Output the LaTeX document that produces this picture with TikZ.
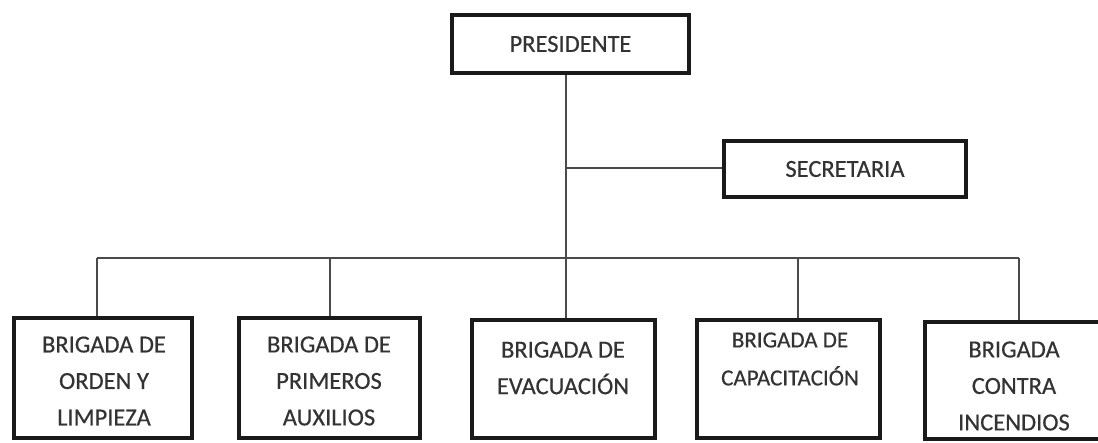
\documentclass[tikz,border=0pt]{standalone}
\usepackage{fontspec}
\setmainfont{Carlito}[FakeBold=0.5]
\definecolor{ink}{HTML}{333333}
\definecolor{frame}{HTML}{1A1A1A}
\definecolor{wire}{HTML}{4A4A4A}
\tikzset{
  box/.style={draw=frame, line width=4pt, fill=white, inner sep=0pt},
  lbl/.style={text=ink, align=center, inner sep=0pt, font=\fontsize{24.5}{36.5}\selectfont},
  lblsmall/.style={text=ink, align=center, inner sep=0pt, font=\fontsize{23}{38}\selectfont},
  wireline/.style={draw=wire, line width=1.4pt}
}
\begin{document}
\begin{tikzpicture}[x=1pt,y=-1pt]
\useasboundingbox[fill=white] (0,0) rectangle (1098,442);
% boxes
\node[box, minimum width=237pt, minimum height=58pt] (pres) at (570.5,44) {};
\node[box, minimum width=242pt, minimum height=56pt] (secr) at (845,169) {};
\node[box, minimum width=178pt, minimum height=120pt] (b1) at (103,378) {};
\node[box, minimum width=181pt, minimum height=120pt] (b2) at (329.5,378) {};
\node[box, minimum width=183pt, minimum height=118pt] (b3) at (563.5,379) {};
\node[box, minimum width=183pt, minimum height=118pt] (b4) at (788.5,379) {};
\node[box, minimum width=180pt, minimum height=117pt] (b5) at (1015,380) {};
% labels
\node[lbl] (tpres) at (pres.center) {PRESIDENTE};
\node[lbl] (tsecr) at (secr.center) {SECRETARIA};
\node[lbl] (t1) at (104,381) {BRIGADA DE\\ORDEN Y\\LIMPIEZA};
\node[lbl] (t2) at (329,381) {BRIGADA DE\\PRIMEROS\\AUXILIOS};
\node[lbl] (t3) at (563,368) {BRIGADA DE\\EVACUACIÓN};
\node[lblsmall] (t4) at (790,359) {BRIGADA DE\\CAPACITACIÓN};
\node[lbl] (t5) at (1014,386) {BRIGADA\\CONTRA\\INCENDIOS};
% connector points
\coordinate (trunk) at (566,258);
\coordinate (sj) at (566,168);
\coordinate (busL) at (97,258);
\coordinate (busR) at (1019,258);
\coordinate (c2) at (330,258);
\coordinate (c4) at (798,258);
% connectors
\draw[wireline] (pres.south -| sj) -- (trunk);
\draw[wireline] (sj) -- (secr.west |- sj);
\draw[wireline] (busL) -- (busR);
\draw[wireline] (busL) -- (busL |- b1.north);
\draw[wireline] (c2) -- (c2 |- b2.north);
\draw[wireline] (trunk) -- (trunk |- b3.north);
\draw[wireline] (c4) -- (c4 |- b4.north);
\draw[wireline] (busR) -- (busR |- b5.north);
\end{tikzpicture}
\end{document}
